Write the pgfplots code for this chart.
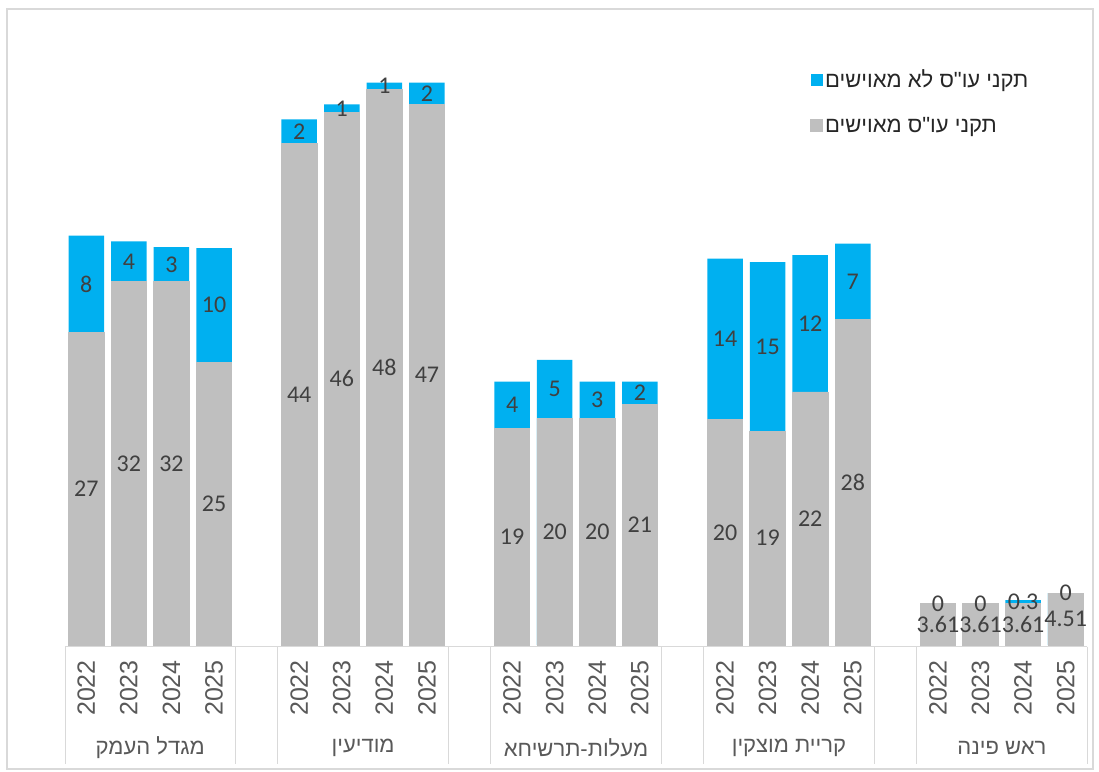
\documentclass[border=0pt]{standalone}
\usepackage{fontspec}
\usepackage{pgfplots}
\usepackage{pgfplotstable}
\pgfplotsset{compat=1.18}
\setmainfont{Liberation Sans}
\newfontfamily\hebfont[Script=Hebrew]{Liberation Sans}
\newfontfamily\calfont{Carlito}
\TeXXeTstate=1
\definecolor{cblue}{RGB}{0,176,240}
\definecolor{cgray}{RGB}{191,191,191}
\definecolor{ctext}{RGB}{64,64,64}
\definecolor{cleg}{RGB}{38,38,38}
\definecolor{clab}{RGB}{89,89,89}
\definecolor{cline}{RGB}{217,217,217}

\pgfplotstableread{
x g b gl bl
0 27.2 8.4 27 8
1 31.6 3.5 32 4
2 31.6 3.0 32 3
3 24.6 9.9 25 10
5 43.6 2.1 44 2
6 46.3 0.7 46 1
7 48.3 0.6 48 1
8 47.0 1.9 47 2
10 18.8 4.1 19 4
11 19.7 5.1 20 5
12 19.7 3.2 20 3
13 20.9 2.0 21 2
15 19.6 14.0 20 14
16 18.6 14.7 19 15
17 22.0 11.9 22 12
18 28.3 6.6 28 7
20 3.61 0 3.61 0
21 3.61 0 3.61 0
22 3.61 0.3 3.61 0.3
23 4.51 0 4.51 0
}\data

\begin{document}
\begin{tikzpicture}
\useasboundingbox (0,0) rectangle (1099pt,771pt);
\fill[white] (0,0) rectangle (1099pt,771pt);
\draw[cline, line width=1.2pt] (7pt,2pt) rectangle (1093pt,762pt);
\begin{axis}[
  at={(65pt,126pt)}, anchor=south west,
  scale only axis, width=1022pt, height=598pt,
  xmin=-0.5, xmax=23.5, ymin=0, ymax=52,
  clip=false,
  axis line style={draw=none},
  axis x line*=bottom, axis y line=none,
  ytick=\empty,
  xtick={0,1,2,3,5,6,7,8,10,11,12,13,15,16,17,18,20,21,22,23},
  xticklabels={2022,2023,2024,2025,2022,2023,2024,2025,2022,2023,2024,2025,2022,2023,2024,2025,2022,2023,2024,2025},
  major tick length=0pt,
  xticklabel style={font=\fontsize{25}{25}\selectfont, text=clab, rotate=90, anchor=east, inner sep=0pt},
  xticklabel shift=15pt,
  legend style={at={(axis cs:17.0,50.2)}, anchor=north west, draw=none, fill=none,
    font=\hebfont\fontsize{22}{22}\selectfont, text=cleg, row sep=24pt, inner sep=0pt,
    /tikz/every even column/.append style={column sep=3pt}},
  legend cell align=left,
]
\addplot[ybar, bar width=35.5pt, bar shift=0pt, fill=cblue, draw=none,
  legend image code/.code={\fill[cblue] (0pt,-6pt) rectangle (12pt,6pt);}]
  table[x=x, y expr=\thisrow{g}+\thisrow{b}] {\data};
\addlegendentry{\beginR תקני עו"ס לא מאוישים\endR}
\addplot[ybar, bar width=35.5pt, bar shift=0pt, fill=cgray, draw=cgray, line width=0.8pt,
  legend image code/.code={\fill[cgray] (0pt,-6pt) rectangle (12pt,6pt);}]
  table[x=x, y=g] {\data};
\addlegendentry{\beginR תקני עו"ס מאוישים\endR}

\addplot[draw=none, mark=none, forget plot, nodes near coords, point meta=explicit symbolic,
  every node near coord/.append style={anchor=center, inner sep=0pt, font=\calfont\fontsize{24}{24}\selectfont, text=ctext}]
  table[x=x, y expr=\thisrow{g}/2, meta=gl] {\data};
\addplot[draw=none, mark=none, forget plot, nodes near coords, point meta=explicit symbolic,
  every node near coord/.append style={anchor=center, inner sep=0pt, font=\calfont\fontsize{24}{24}\selectfont, text=ctext}]
  table[x=x, y expr=\thisrow{g}+\thisrow{b}/2, meta=bl] {\data};

\draw[cline, line width=1pt] ([yshift=-1.5pt]axis cs:-0.5,0) -- ([yshift=-1.5pt]axis cs:23.5,0);
\pgfplotsinvokeforeach{-0.5,3.5,4.5,8.5,9.5,13.5,14.5,18.5,19.5,23.5}{
  \draw[cline, line width=1pt] ([yshift=-1.5pt]axis cs:#1,0) -- ([yshift=-119pt]axis cs:#1,0);
}
\node[font=\hebfont\fontsize{22}{22}\selectfont, text=clab] at ([yshift=-103pt]axis cs:1.5,0) {\beginR מגדל העמק\endR};
\node[font=\hebfont\fontsize{22}{22}\selectfont, text=clab] at ([yshift=-103pt]axis cs:6.5,0) {\beginR מודיעין\endR};
\node[font=\hebfont\fontsize{22}{22}\selectfont, text=clab] at ([yshift=-103pt]axis cs:11.5,0) {\beginR מעלות-תרשיחא\endR};
\node[font=\hebfont\fontsize{22}{22}\selectfont, text=clab] at ([yshift=-103pt]axis cs:16.5,0) {\beginR קריית מוצקין\endR};
\node[font=\hebfont\fontsize{22}{22}\selectfont, text=clab] at ([yshift=-103pt]axis cs:21.5,0) {\beginR ראש פינה\endR};
\end{axis}
\end{tikzpicture}
\end{document}
